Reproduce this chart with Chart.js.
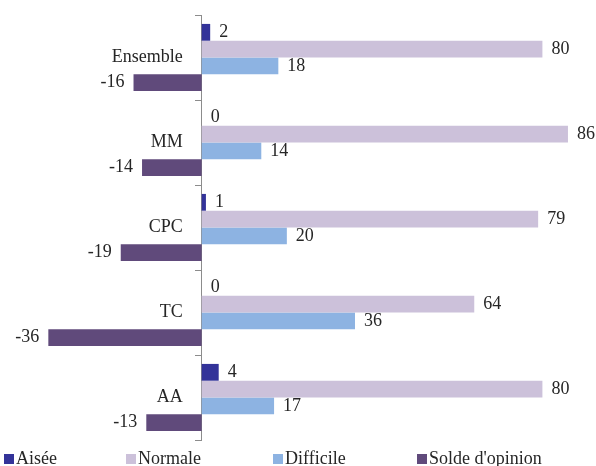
<!DOCTYPE html>
<html>
<head>
<meta charset="utf-8">
<script src="https://cdn.jsdelivr.net/npm/chart.js@4.4.1/dist/chart.umd.min.js"></script>
<style>
  html, body { margin: 0; padding: 0; background: #fff; }
  #wrap { width: 596px; height: 466px; position: relative; }
</style>
</head>
<body>
<div id="wrap"><canvas id="chart"></canvas></div>
<script>
'use strict';

const FONT = "'Liberation Serif', 'Times New Roman', serif";

// catégories et séries
const categories = ['Ensemble', 'MM', 'CPC', 'TC', 'AA'];
const seriesNames = ['Aisée', 'Normale', 'Difficile', "Solde d'opinion"];
const aisee     = [2, 0, 1, 0, 4];
const normale   = [80, 86, 79, 64, 80];
const difficile = [18, 14, 20, 36, 17];
const solde     = [-16, -14, -19, -36, -13];

const COLORS = {
  aisee    : '#333399',
  normale  : '#ccc1da',
  difficile: '#8db3e2',
  solde    : '#604a7b',
  text     : '#262626',
  axis     : '#8c8c8c',
};

/* ── libellés des catégories, à gauche de l'axe ── */
const categoryLabels = {
  id: 'categoryLabels',
  afterDraw(chart) {
    const ctx = chart.ctx;
    const xScale = chart.scales.x, yScale = chart.scales.y;
    const x0 = xScale.getPixelForValue(0);
    ctx.save();
    ctx.font = '18px ' + FONT;
    ctx.fillStyle = COLORS.text;
    ctx.textBaseline = 'middle';
    ctx.textAlign = 'right';
    chart.data.labels.forEach((lab, i) => {
      ctx.fillText(lab, x0 - 19, yScale.getPixelForValue(i));
    });
    ctx.restore();
  },
};

/* ── étiquettes de valeurs ── */
const valueLabels = {
  id: 'valueLabels',
  afterDatasetsDraw(chart) {
    const ctx = chart.ctx;
    ctx.save();
    ctx.font = '18px ' + FONT;
    ctx.fillStyle = COLORS.text;
    ctx.textBaseline = 'middle';
    chart.data.datasets.forEach((ds, i) => {
      chart.getDatasetMeta(i).data.forEach((bar, j) => {
        const v = ds.data[j];
        if (v < 0) {
          ctx.textAlign = 'right';
          ctx.fillText(String(v), bar.x - 9, bar.y);
        } else {
          ctx.textAlign = 'left';
          ctx.fillText(String(v), bar.x + 9, bar.y);
        }
      });
    });
    ctx.restore();
  },
};

/* ── légende en bas ── */
const bottomLegend = {
  id: 'bottomLegend',
  afterDraw(chart) {
    const ctx = chart.ctx;
    const xs = [4, 126, 273, 417];
    const y = 459;
    ctx.save();
    ctx.font = '18px ' + FONT;
    ctx.textBaseline = 'middle';
    ctx.textAlign = 'left';
    chart.data.datasets.forEach((ds, i) => {
      ctx.fillStyle = ds.backgroundColor;
      ctx.fillRect(xs[i], y - 5, 10, 10);
      ctx.fillStyle = COLORS.text;
      ctx.fillText(ds.label, xs[i] + 12, y);
    });
    ctx.restore();
  },
};

new Chart(document.getElementById('chart'), {
  type: 'bar',
  data: {
    labels: categories,
    datasets: [
      { label: seriesNames[0], data: aisee,     backgroundColor: COLORS.aisee },
      { label: seriesNames[1], data: normale,   backgroundColor: COLORS.normale },
      { label: seriesNames[2], data: difficile, backgroundColor: COLORS.difficile },
      { label: seriesNames[3], data: solde,     backgroundColor: COLORS.solde },
    ],
  },
  options: {
    indexAxis: 'y',
    responsive: true, maintainAspectRatio: false,
    animation: false,
    layout: { padding: { top: 15, bottom: 26, left: 10, right: 11 } },
    datasets: { bar: { categoryPercentage: 0.79, barPercentage: 1.0, borderWidth: 0 } },
    plugins: { legend: { display: false }, tooltip: { enabled: false } },
    scales: {
      x: { display: false, min: -45, max: 90 },
      y: {
        position: { x: 0 },
        grid: { drawOnChartArea: false, offset: true, tickLength: 6, color: COLORS.axis },
        border: { color: COLORS.axis },
        ticks: { display: false },
      },
    },
  },
  plugins: [valueLabels, categoryLabels, bottomLegend],
});
</script>
</body>
</html>
